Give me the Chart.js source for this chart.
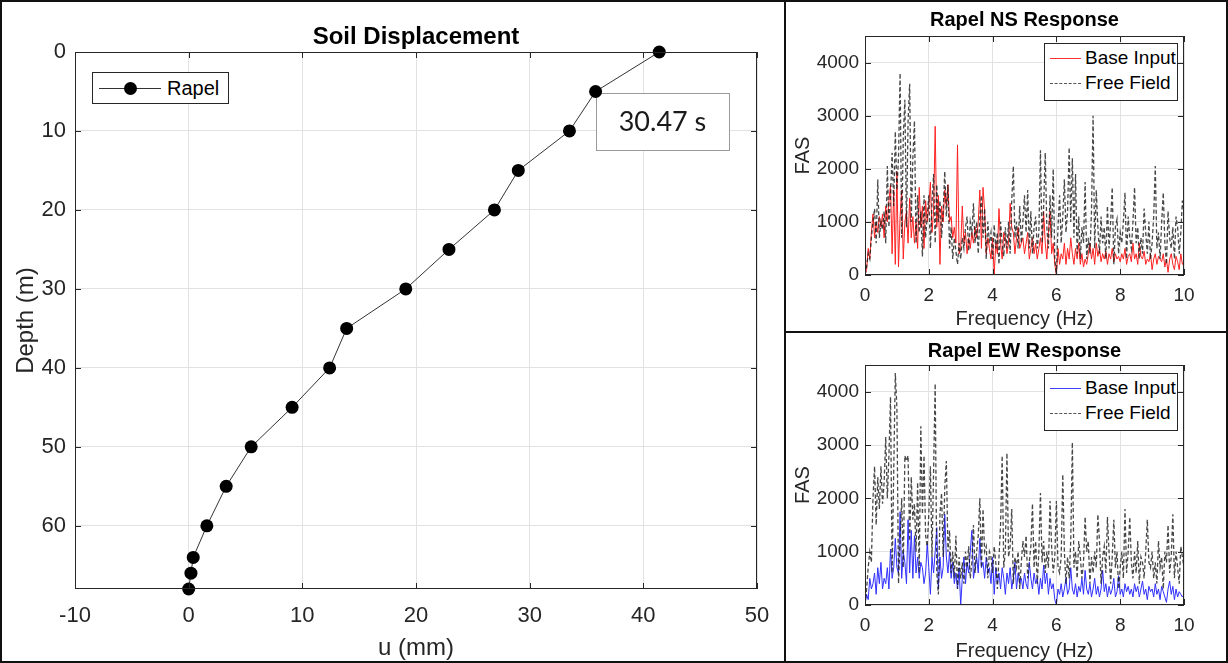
<!DOCTYPE html>
<html>
<head>
<meta charset="utf-8">
<script src="https://cdn.jsdelivr.net/npm/chart.js@4.4.1/dist/chart.umd.min.js"></script>
<style>
  html, body { margin:0; padding:0; background:#fff; }
  #page { position:relative; width:1228px; height:663px; overflow:hidden; background:#fff;
          font-family:"Liberation Sans", Arial, sans-serif; }
  canvas { position:absolute; }
  .frame { position:absolute; box-sizing:border-box; border:2px solid #111; pointer-events:none; }
  .legend { position:absolute; box-sizing:border-box; border:1px solid #262626; background:#fff; }
  .legend .txt { position:absolute; white-space:nowrap; color:#000; line-height:22px; }
  .legend .ln { position:absolute; height:1px; }
  .legend .dash { position:absolute; height:0; border-top:1px dashed #555; }
  .legend .dot { position:absolute; width:13px; height:13px; border-radius:50%; background:#000; }
</style>
</head>
<body>
<div id="page">
  <canvas id="soilChart" width="784" height="663" style="left:0;top:0"></canvas>
  <canvas id="nsChart" width="440" height="331" style="left:786px;top:0"></canvas>
  <canvas id="ewChart" width="440" height="330" style="left:786px;top:333px"></canvas>

  <!-- legend: soil displacement -->
  <div class="legend" style="left:92px;top:72px;width:137px;height:32px;">
    <div class="ln" style="left:6px;top:15px;width:62px;background:#333;"></div>
    <div class="dot" style="left:31px;top:9px;"></div>
    <div class="txt" style="left:74px;top:4px;font-size:20px;">Rapel</div>
  </div>

  <!-- legend: NS -->
  <div class="legend" style="left:1044px;top:43px;width:134px;height:58px;">
    <div class="ln" style="left:5px;top:14px;width:31px;background:#ff3030;"></div>
    <div class="txt" style="left:40px;top:3px;font-size:19px;">Base Input</div>
    <div class="dash" style="left:5px;top:39px;width:31px;"></div>
    <div class="txt" style="left:40px;top:28px;font-size:19px;">Free Field</div>
  </div>

  <!-- legend: EW -->
  <div class="legend" style="left:1044px;top:373px;width:134px;height:58px;">
    <div class="ln" style="left:5px;top:14px;width:31px;background:#4040ff;"></div>
    <div class="txt" style="left:40px;top:3px;font-size:19px;">Base Input</div>
    <div class="dash" style="left:5px;top:39px;width:31px;"></div>
    <div class="txt" style="left:40px;top:28px;font-size:19px;">Free Field</div>
  </div>

  <div class="frame" style="left:0;top:0;width:786px;height:663px;"></div>
  <div class="frame" style="left:784px;top:0;width:444px;height:333px;"></div>
  <div class="frame" style="left:784px;top:331px;width:444px;height:332px;"></div>
</div>

<script>
/* ---------- data: soil displacement profile ---------- */
const depthM = [0, 5, 10, 15, 20, 25, 30, 35, 40, 45, 50, 55, 60, 64, 66, 68];
const uMm    = [41.4, 35.8, 33.5, 29.0, 26.9, 22.9, 19.1, 13.9, 12.4, 9.1, 5.5, 3.3, 1.6, 0.4, 0.2, 0.0];
const timeLabel = '30.47 s';

const uTicks     = [-10, 0, 10, 20, 30, 40, 50];
const depthTicks = [0, 10, 20, 30, 40, 50, 60];
const freqTicks  = [0, 2, 4, 6, 8, 10];
const fasTicks   = [0, 1000, 2000, 3000, 4000];

/* ---------- data: Fourier amplitude spectra, sampled every 0.05 Hz from 0 to 10 Hz ---------- */
const FREQ_STEP = 0.05;

const nsBase = [
  0,100,500,300,800,1150,700,1000,800,1100,
  900,1150,700,1300,1000,1400,1700,400,1600,200,
  1950,150,1100,1600,300,1000,1200,600,1450,700,
  1100,600,1000,500,1650,900,1300,500,1400,1000,
  1300,1750,800,1200,2800,900,1500,200,1300,1000,
  1600,1300,1700,1000,1100,700,900,600,2450,400,
  500,1300,600,800,400,700,500,800,600,900,
  700,1000,1600,500,1650,1200,400,700,500,300,
  700,0,600,400,1250,600,300,800,700,400,
  600,1350,900,800,400,700,900,500,600,700,
  400,600,800,300,500,700,400,600,300,500,
  700,400,1200,600,300,800,1200,400,600,200,
  0,500,200,400,300,600,200,500,300,700,
  400,200,500,300,600,200,400,150,300,200,
  400,600,300,500,200,600,350,500,250,400,
  300,450,200,400,300,500,250,400,300,350,
  250,400,300,500,200,350,400,250,600,300,
  400,200,600,350,300,450,200,300,250,400,
  100,300,400,200,350,300,250,400,150,300,
  50,300,400,200,100,350,250,100,400,200,
  250
];

const nsFree = [
  0,150,400,300,700,1000,1250,600,1800,700,
  1000,850,1200,600,2050,900,1500,2300,1300,2700,
  1600,2200,3800,700,2600,3300,900,2900,3600,1000,
  2200,2900,600,1500,800,1200,350,1500,700,1100,
  1500,500,1350,1900,600,1700,1000,1400,700,1200,
  1950,1100,1700,500,900,300,700,450,200,600,
  300,700,500,900,1100,450,1000,800,1350,600,
  1000,400,1100,1500,700,1250,300,1000,600,800,
  300,950,500,800,200,1000,600,350,900,500,
  1000,400,1400,2050,700,1000,500,1300,600,1000,
  1500,800,1600,500,1200,400,900,1100,500,800,
  2350,600,1300,2300,900,500,1500,700,2000,300,
  0,900,1500,600,1100,1800,800,1200,2400,1000,
  2200,700,1900,400,1100,300,900,600,1750,300,
  700,400,1200,3000,500,1600,900,400,1100,600,
  900,300,1300,500,1000,1650,200,900,1050,400,
  800,600,1000,1550,300,1100,700,500,1000,1650,
  600,900,300,700,400,1250,800,400,1000,300,
  600,1100,2050,500,800,300,1000,1550,600,200,
  1200,700,500,900,300,1100,900,400,800,1400,
  1200
];

const ewBase = [
  0,200,100,500,300,400,600,200,700,400,
  800,300,500,400,700,300,1050,500,700,1250,
  700,600,1750,500,1000,800,400,1600,600,1400,
  500,1300,600,900,500,800,700,400,600,1150,
  700,200,900,600,1000,1450,300,900,500,700,
  1700,900,600,1000,500,800,400,600,300,700,
  0,500,900,400,800,600,1000,1400,500,700,
  900,600,1250,700,800,500,900,600,700,400,
  900,200,700,400,600,300,700,500,200,600,
  400,700,300,500,800,300,600,400,500,300,
  600,400,300,800,500,300,600,400,500,200,
  500,300,750,400,600,200,500,300,400,100,
  0,300,200,400,150,300,500,200,300,700,
  300,200,400,150,350,250,500,200,650,300,
  200,400,150,300,500,200,350,150,300,650,
  250,400,150,350,200,300,500,150,250,550,
  200,300,150,400,250,350,200,300,150,400,
  250,350,150,300,450,200,300,100,350,250,
  300,150,400,200,300,100,350,250,150,50,
  300,450,200,350,100,300,150,250,200,150,
  200
];

const ewFree = [
  0,300,700,1000,800,2000,2600,1500,2400,1800,
  2600,1900,2300,3150,2000,2800,3900,600,2500,4350,
  3700,400,1200,2000,700,2800,2700,2800,1200,2400,
  1600,1900,1000,2300,600,3350,1700,2800,1300,1100,
  1700,2600,900,2500,4150,600,200,1700,2100,900,
  2200,2700,1000,1400,600,1000,500,1300,300,900,
  500,800,400,1000,700,1100,500,800,1500,600,
  1000,1300,2000,700,1800,1000,1100,500,1000,900,
  600,1100,800,300,900,1500,2800,700,1000,2850,
  900,1100,1800,400,900,700,1000,300,800,1200,
  900,1300,500,800,1100,1900,700,1200,400,1000,
  2100,800,1200,600,1000,700,1950,1100,600,900,
  1950,700,600,900,2450,1000,400,900,500,1200,
  3050,700,1000,500,1200,900,500,800,1650,1000,
  1200,400,900,600,1000,700,1700,1200,400,900,
  1100,600,1650,1000,400,900,1600,700,1000,300,
  700,1000,500,1800,600,1000,1650,800,500,1000,
  600,1200,400,900,800,500,1000,1600,800,700,
  1000,500,800,400,1200,700,900,300,1000,800,
  1500,600,900,1700,500,1000,700,400,1100,900,
  700
];

/* ---------- helpers ---------- */
const FONT = '"Liberation Sans", Arial, sans-serif';
const TICK_COLOR = '#262626';
const GRID_COLOR = '#e2e2e2';

function toPoints(values){
  return values.map((v, i) => ({ x: +(i * FREQ_STEP).toFixed(2), y: v }));
}

function fixedTicks(list){
  return scale => { scale.ticks = list.map(v => ({ value: v })); };
}

// matlab-like box around the axes with small inner tick marks
const axisBox = {
  id: 'axisBox',
  afterDatasetsDraw(chart){
    const { ctx, chartArea: a, scales } = chart;
    ctx.save();
    ctx.strokeStyle = '#262626';
    ctx.lineWidth = 1;
    ctx.strokeRect(Math.round(a.left) + 0.5, Math.round(a.top) + 0.5,
                   Math.round(a.right - a.left) - 1, Math.round(a.bottom - a.top) - 1);
    const len = 6;
    ctx.beginPath();
    scales.x.ticks.forEach(t => {
      const p = Math.round(scales.x.getPixelForValue(t.value)) + 0.5;
      ctx.moveTo(p, a.bottom); ctx.lineTo(p, a.bottom - len);
      ctx.moveTo(p, a.top);    ctx.lineTo(p, a.top + len);
    });
    scales.y.ticks.forEach(t => {
      const p = Math.round(scales.y.getPixelForValue(t.value)) + 0.5;
      ctx.moveTo(a.left, p);  ctx.lineTo(a.left + len, p);
      ctx.moveTo(a.right, p); ctx.lineTo(a.right - len, p);
    });
    ctx.stroke();
    ctx.restore();
  }
};

// panel title + optional note box
const panelText = {
  id: 'panelText',
  beforeDatasetsDraw(chart, args, opts){
    if(!opts.note) return;
    const { ctx } = chart;
    const n = opts.note;
    ctx.save();
    ctx.fillStyle = '#fff';
    ctx.fillRect(n.x, n.y, n.w, n.h);
    ctx.strokeStyle = '#9a9a9a';
    ctx.lineWidth = 1;
    ctx.strokeRect(n.x + 0.5, n.y + 0.5, n.w, n.h);
    ctx.fillStyle = '#1a1a1a';
    ctx.font = n.font;
    ctx.textAlign = 'center';
    ctx.textBaseline = 'middle';
    ctx.fillText(n.text, n.x + n.w / 2, n.y + n.h / 2 + 1);
    ctx.restore();
  },
  afterDraw(chart, args, opts){
    if(!opts.title) return;
    const { ctx, chartArea: a } = chart;
    ctx.save();
    ctx.fillStyle = '#000';
    ctx.font = opts.font;
    ctx.textAlign = 'center';
    ctx.textBaseline = 'middle';
    ctx.fillText(opts.title, (a.left + a.right) / 2, opts.y);
    ctx.restore();
  }
};

Chart.register(axisBox, panelText);

/* ---------- soil displacement ---------- */
new Chart(document.getElementById('soilChart'), {
  type: 'scatter',
  data: {
    datasets: [{
      label: 'Rapel',
      data: depthM.map((d, i) => ({ x: uMm[i], y: d })),
      showLine: true,
      borderColor: '#333',
      borderWidth: 1,
      pointRadius: 6.5,
      pointBackgroundColor: '#000',
      pointBorderColor: '#000',
      pointBorderWidth: 0,
      clip: false
    }]
  },
  options: {
    responsive: false,
    animation: false,
    events: [],
    layout: { padding: { left: 12, right: 27, top: 52, bottom: 0 } },
    plugins: {
      legend: { display: false },
      tooltip: { enabled: false },
      panelText: {
        title: 'Soil Displacement', y: 37, font: 'bold 24px ' + FONT,
        note: { x: 596, y: 93, w: 133, h: 57, text: timeLabel, font: '27px Lato, "Open Sans", sans-serif' }
      }
    },
    scales: {
      x: {
        type: 'linear', min: -10, max: 50,
        afterBuildTicks: fixedTicks(uTicks),
        ticks: { color: TICK_COLOR, padding: 14, font: { family: FONT, size: 22 } },
        grid: { color: GRID_COLOR, drawTicks: false },
        border: { display: false },
        title: { display: true, text: 'u (mm)', color: TICK_COLOR, padding: 0, font: { family: FONT, size: 24 } },
        afterFit: s => { s.height = 74; }
      },
      y: {
        type: 'linear', min: 0, max: 68, reverse: true,
        afterBuildTicks: fixedTicks(depthTicks),
        ticks: { color: TICK_COLOR, padding: 9, font: { family: FONT, size: 22 } },
        grid: { color: GRID_COLOR, drawTicks: false },
        border: { display: false },
        title: { display: true, text: 'Depth (m)', color: TICK_COLOR, padding: 0, font: { family: FONT, size: 24 } },
        afterFit: s => { s.width = 63; }
      }
    }
  }
});

/* ---------- spectra ---------- */
function spectrumChart(id, title, titleY, baseValues, freeValues, baseColor, top, xHeight){
  return new Chart(document.getElementById(id), {
    type: 'line',
    data: {
      datasets: [
        {
          label: 'Free Field',
          data: toPoints(freeValues),
          borderColor: 'rgba(25,25,25,0.8)',
          borderWidth: 1.3,
          borderDash: [4, 2.5],
          pointRadius: 0,
          tension: 0,
          order: 0
        },
        {
          label: 'Base Input',
          data: toPoints(baseValues),
          borderColor: baseColor,
          borderWidth: 1,
          pointRadius: 0,
          tension: 0,
          order: 1
        }
      ]
    },
    options: {
      responsive: false,
      animation: false,
      events: [],
      layout: { padding: { left: 5, right: 42, top: top, bottom: 0 } },
      plugins: {
        legend: { display: false },
        tooltip: { enabled: false },
        panelText: { title: title, y: titleY, font: 'bold 20px ' + FONT }
      },
      scales: {
        x: {
          type: 'linear', min: 0, max: 10,
          afterBuildTicks: fixedTicks(freqTicks),
          ticks: { color: TICK_COLOR, padding: 9, font: { family: FONT, size: 19 } },
          grid: { color: GRID_COLOR, drawTicks: false },
          border: { display: false },
          title: { display: true, text: 'Frequency (Hz)', color: TICK_COLOR, padding: 0, font: { family: FONT, size: 20 } },
          afterFit: s => { s.height = xHeight; }
        },
        y: {
          type: 'linear', min: 0, max: 4500,
          afterBuildTicks: fixedTicks(fasTicks),
          ticks: { color: TICK_COLOR, padding: 6, font: { family: FONT, size: 19 }, callback: v => String(v) },
          grid: { color: GRID_COLOR, drawTicks: false },
          border: { display: false },
          title: { display: true, text: 'FAS', color: TICK_COLOR, padding: 0, font: { family: FONT, size: 20 } },
          afterFit: s => { s.width = 74; }
        }
      }
    }
  });
}

spectrumChart('nsChart', 'Rapel NS Response', 20, nsBase, nsFree, '#ff2020', 36, 56);
spectrumChart('ewChart', 'Rapel EW Response', 18, ewBase, ewFree, '#3030ff', 32, 58);
</script>
</body>
</html>
